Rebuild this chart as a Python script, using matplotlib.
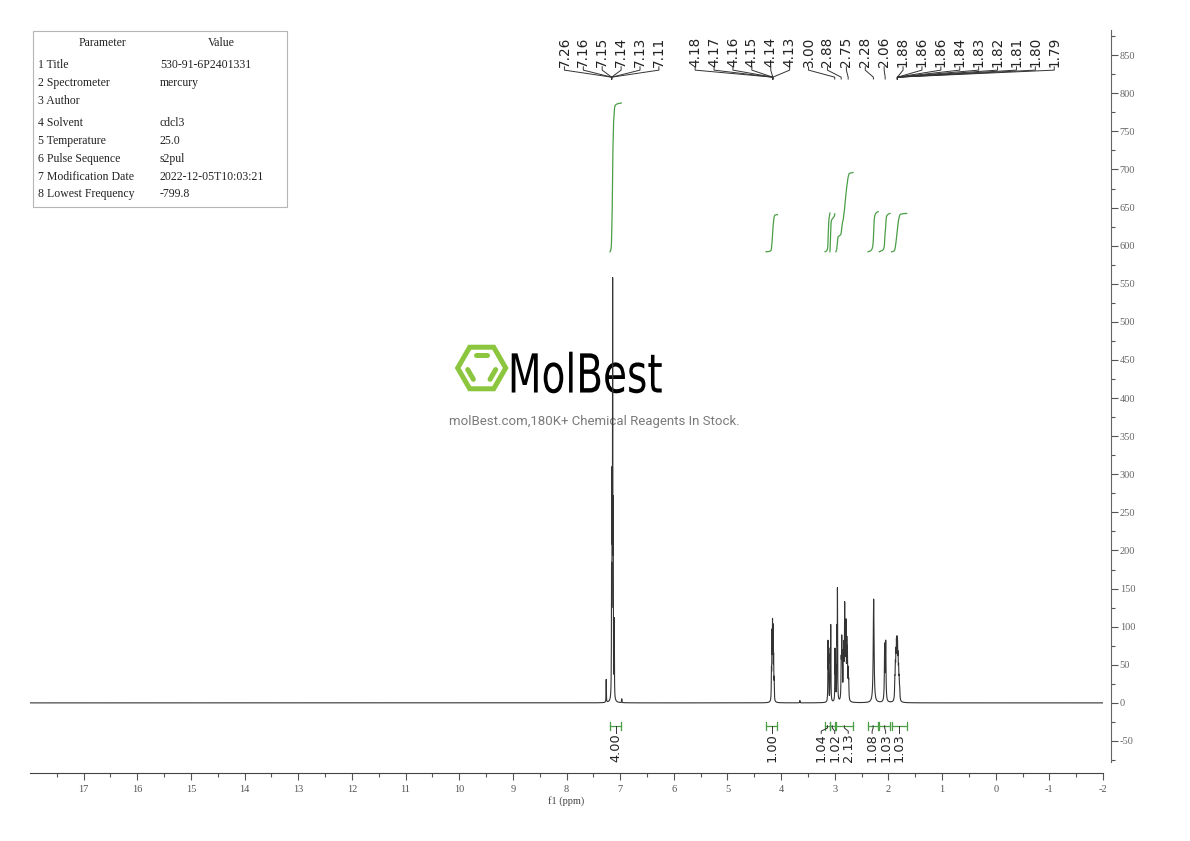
import numpy as np
import matplotlib
matplotlib.use('Agg')
import matplotlib.pyplot as plt
from matplotlib.ticker import FixedLocator
from matplotlib.patches import Rectangle, Polygon, PathPatch
from matplotlib.textpath import TextPath
from matplotlib.font_manager import FontProperties
from matplotlib.transforms import Affine2D

# ---- data ----
# peaks: ppm, height, half width (ppm)
peak_ppm = [7.26, 7.16, 7.15, 7.14, 7.13, 7.11, 6.97,
            4.18, 4.17, 4.16, 4.15, 4.14, 4.13, 3.65,
            3.125, 3.115, 3.085, 3.075,
            2.995, 2.985, 2.96, 2.95,
            2.88, 2.87, 2.86, 2.84, 2.83, 2.815, 2.80, 2.79, 2.775, 2.765, 2.75, 2.74,
            2.275, 2.07, 2.05,
            1.88, 1.87, 1.86, 1.85, 1.84, 1.83, 1.82, 1.81, 1.80, 1.79]
peak_height = [30, 150, 250, 515, 220, 100, 5,
               35, 80, 90, 85, 50, 25, 3,
               75, 55, 60, 95,
               65, 40, 85, 140,
               45, 70, 45, 50, 58, 115, 72, 85, 65, 55, 35, 22,
               136, 72, 76,
               22, 36, 47, 56, 58, 54, 43, 32, 22, 13]
peak_hw = [0.003] * 7 + [0.0035] * 7 + [0.0035] * 4 + [0.0035] * 4 + [0.0045] * 12 + \
          [0.009, 0.006, 0.006] + [0.005] * 10

# peak labels, grouped by multiplet
label_groups = [[7.26, 7.16, 7.15, 7.14, 7.13, 7.11],
                [4.18, 4.17, 4.16, 4.15, 4.14, 4.13],
                [3.00], [2.88], [2.75], [2.28], [2.06],
                [1.88, 1.86, 1.86, 1.84, 1.83, 1.82, 1.81, 1.80, 1.79]]

# integrals
int_from = [7.19, 4.28, 3.18, 3.09, 2.98, 2.38, 2.17, 1.94]
int_to = [6.98, 4.07, 3.09, 3.00, 2.66, 2.19, 1.97, 1.66]
int_value = [4.00, 1.00, 1.04, 1.02, 2.13, 1.08, 1.03, 1.03]

params = ["1 Title", "2 Spectrometer", "3 Author", "4 Solvent", "5 Temperature",
          "6 Pulse Sequence", "7 Modification Date", "8 Lowest Frequency"]
values = ["530-91-6P2401331", "mercury", "", "cdcl3", "25.0", "s2pul",
          "2022-12-05T10:03:21", "-799.8"]

plt.rcParams['font.family'] = ['Liberation Serif', 'DejaVu Serif']
plt.rcParams['axes.unicode_minus'] = False

W, H = 1190, 841
fig = plt.figure(figsize=(W / 100, H / 100), dpi=100)
ax = fig.add_axes([30 / W, 68 / H, 1073 / W, 743 / H])
ax.patch.set_visible(False)

ppm = np.linspace(18, -2, 40001)
spec = np.zeros_like(ppm)
for p, h, w in zip(peak_ppm, peak_height, peak_hw):
    spec += h / (1 + ((ppm - p) / w) ** 2)
ax.plot(ppm, spec, color='#333333', lw=0.8, zorder=3)

ax.set_xlim(18, -2)
ax.set_ylim(-92, 883)
for s in ['top', 'left']:
    ax.spines[s].set_visible(False)
ax.spines['right'].set_position(('outward', 6))
ax.spines['right'].set_bounds(-78, 883)
ax.spines['right'].set_color('#666666')
ax.spines['bottom'].set_color('#444444')
ax.yaxis.tick_right()
ax.xaxis.set_major_locator(FixedLocator(np.arange(17, -3, -1)))
ax.xaxis.set_minor_locator(FixedLocator(np.arange(17.5, -2.5, -1)))
ax.yaxis.set_major_locator(FixedLocator(np.arange(-50, 900, 50)))
ax.yaxis.set_minor_locator(FixedLocator(np.arange(-75, 900, 50)))
ax.tick_params(which='major', length=5, width=0.8, colors='#555555', labelsize=7.5, pad=3)
ax.tick_params(which='minor', length=3, width=0.8, colors='#555555')
ax.tick_params(axis='y', labelcolor='#666666', pad=1)
ax.tick_params(axis='x', labelcolor='#555555', pad=4)
ax.set_xlabel('f1 (ppm)', fontsize=7.5, color='#444444', labelpad=1)


# label placement: least squares with minimum gap (display order u = -ppm)
def spread(want, weight, gap):
    blocks = []

    def pos(b):
        i0, i1 = b
        vals = [want[k] - (k - i0) * gap for k in range(i0, i1 + 1)]
        return np.average(vals, weights=weight[i0:i1 + 1])

    for i in range(len(want)):
        blocks.append([i, i])
        while len(blocks) > 1:
            a, b = blocks[-2], blocks[-1]
            if pos(b) - (pos(a) + (a[1] - a[0]) * gap) < gap:
                blocks[-2:] = [[a[0], b[1]]]
            else:
                break
    out = []
    for b in blocks:
        p = pos(b)
        out += [p + k * gap for k in range(b[1] - b[0] + 1)]
    return out


px = 1073 / 20.0  # pixels per ppm
trans = ax.get_xaxis_transform()
want, weight, texts, anchor = [], [], [], []
for g in label_groups:
    centre = np.mean(g)
    for v in g:
        want.append(-centre)
        weight.append(1.0 / len(g))
        texts.append(v)
        anchor.append(centre)
lab_u = spread(want, weight, 18.9 / px)
for u, v, c in zip(lab_u, texts, anchor):
    lx = -u
    ax.text(lx, 0.9505, f"{v:.2f}", rotation=90, ha='center', va='bottom',
            transform=trans, fontsize=9.8, family='DejaVu Sans', color='#222222')
    ax.plot([lx, lx, c, c], [0.9505, 0.946, 0.9365, 0.934], transform=trans,
            color='#333333', lw=0.7, clip_on=False)

# integrals
green = '#4a9e45'
cent = [-(a + b) / 2 for a, b in zip(int_from, int_to)]
ilab_u = spread(cent, [1.0] * len(cent), 13.5 / px)
for a, b, v, u in zip(int_from, int_to, int_value, ilab_u):
    m = (ppm <= a) & (ppm >= b)
    seg = spec[m]
    cum = np.cumsum(seg[::-1])[::-1]
    cum = (cum.max() - cum) / (cum.max() - cum.min())
    ax.plot(ppm[m], 592 + 48.8 * v * cum, color=green, lw=0.9)
    ax.plot([a, a], [-25, -35], color=green, lw=0.9)
    ax.plot([b, b], [-25, -35], color=green, lw=0.9)
    ax.plot([a, b], [-30, -30], color=green, lw=0.9)
    c = (a + b) / 2
    lx = -u
    ax.plot([c, c, lx, lx], [-30, -33, -37, -40], color='#333333', lw=0.7)
    ax.text(lx, -40, f"{v:.2f}", rotation=90, ha='center', va='top',
            fontsize=9.3, family='DejaVu Sans', color='#222222')


# parameter table
def fx(x):
    return x / W


def fy(y):
    return 1 - y / H


fig.add_artist(Rectangle((fx(33), fy(207)), 254 / W, 176 / H, transform=fig.transFigure,
                         fill=False, edgecolor='#b5b5b5', lw=0.8))
fig.text(fx(102), fy(43), "Parameter", ha='center', va='center', fontsize=8.5, color='#222222')
fig.text(fx(221), fy(43), "Value", ha='center', va='center', fontsize=8.5, color='#222222')
row_y = [65, 83, 101, 123, 141, 159, 177, 194]
for y, p, v in zip(row_y, params, values):
    fig.text(fx(38), fy(y), p, ha='left', va='center', fontsize=8.5, color='#222222')
    fig.text(fx(160), fy(y), v, ha='left', va='center', fontsize=8.5, color='#222222')

# watermark
to_fig = Affine2D().scale(1 / W, 1 / H) + fig.transFigure
cx, cy, R = 481.7, H - 368, 24
ang = np.radians(np.arange(0, 360, 60))
hexv = np.c_[cx + R * np.cos(ang), cy + R * np.sin(ang)]
fig.add_artist(Polygon(hexv, closed=True, fill=False, edgecolor='#8cc63f', lw=3.6,
                       transform=to_fig, zorder=-1))
for i0, i1 in [(1, 2), (3, 4), (5, 0)]:
    p0 = np.array([cx, cy]) + 0.62 * (hexv[i0] - [cx, cy])
    p1 = np.array([cx, cy]) + 0.62 * (hexv[i1] - [cx, cy])
    q0 = p0 + 0.12 * (p1 - p0)
    q1 = p1 - 0.12 * (p1 - p0)
    fig.add_artist(plt.Line2D([q0[0], q1[0]], [q0[1], q1[1]], color='#8cc63f', lw=3.6,
                              solid_capstyle='round', transform=to_fig, zorder=-1))
tp = TextPath((0, 0), "MolBest", size=50, prop=FontProperties(family='DejaVu Sans'))
bb = tp.get_extents()
x0, y0, bw, bh = 511.7, H - 393.3, 150, 41.6
tr = Affine2D().translate(-bb.x0, -bb.y0).scale(bw / bb.width, bh / bb.height).translate(x0, y0)
fig.add_artist(PathPatch(tr.transform_path(tp), facecolor='black', edgecolor='none',
                         transform=to_fig, zorder=-1))
fig.text(fx(594), fy(421), "molBest.com,180K+ Chemical Reagents In Stock.", ha='center',
         va='center', fontsize=9.5, family='Roboto', color='#7a7a7a', zorder=-1)

fig.savefig('out.png', dpi=100)
